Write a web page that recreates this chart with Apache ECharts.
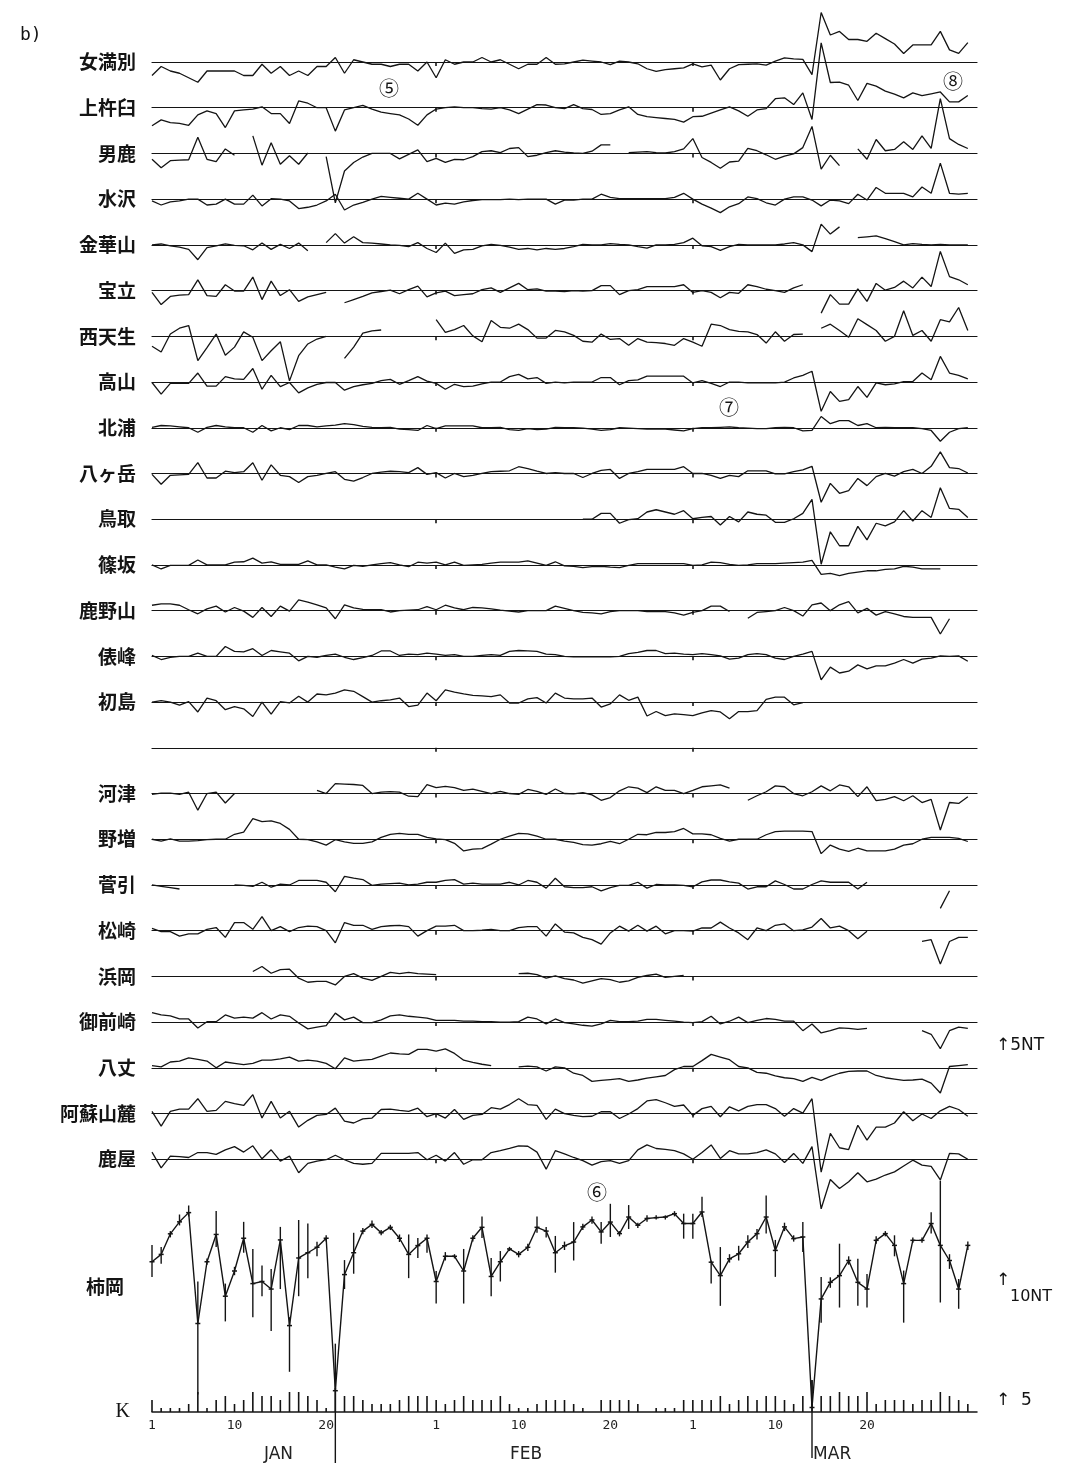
<!DOCTYPE html>
<html>
<head>
<meta charset="utf-8">
<script src="https://cdn.jsdelivr.net/npm/echarts@6.0.0/dist/echarts.min.js"></script>
<style>
html,body{margin:0;padding:0;background:#fff}
#main{width:1073px;height:1463px}
</style>
</head>
<body>
<div id="main"></div>
<script>
// daily values, Jan 1 .. Mar 31 (index 0..89), nT; null = no data
var memambetsu = [
-3,-1,-2,-2.5,-3.5,-4.5,-2,-2,-2,-2,
-3,-3,-0.5,-2.5,-1,-3,-2,-3,-1,-1,
1,-2.5,0.5,0,-0.5,-0.5,-1,-0.5,-0.5,-2,
0,-3.5,0.5,-0.5,0,0,1,0,0.5,-0.5,
-1.5,-0.5,-0.5,1,-0.5,-0.4,0,0.4,0.2,0,
-0.6,0.2,0,-0.4,-1.5,-2.1,-1.7,-1.5,-1.3,-0.4,
-1.1,-0.7,-4,-1.5,-0.6,-0.5,-0.4,-0.7,0.2,0.9,
0.7,0.6,-2.8,11,6,6.8,5,5,4.6,6.4,
5.2,4,1.9,3.8,3.8,3.8,6.8,2.7,1.9,4.3];
var kamikineusu = [
-4,-2.7,-3.3,-3.5,-3.9,-1.6,-0.7,-1.3,-4.4,-0.7,
-0.5,-0.3,0.2,-1.3,-1.3,-3.5,1.5,1,0,0,
-5.2,-0.5,0,0.5,-0.3,-1,-1.3,-1.6,-2.5,-3.9,
-1.6,-0.3,0,0.2,0,0,-0.2,-0.3,0,-0.5,
-1.3,-0.3,0.7,0.6,0,-0.2,0.7,-0.2,-0.4,-1.5,
-1.3,-0.5,0.2,-1.5,-2,-2.2,-2.4,-2.6,-3.2,-2,
-1.9,-1.2,-0.5,0.2,-0.7,-1.9,-0.5,-0.2,2,2.2,
0.7,3.3,-2.6,14.4,5.6,5.7,5,1.6,5.4,4.8,
3.7,3,2.2,3.3,2.7,3.1,3.5,1.3,1.3,2.7];
var oga = [
-1.3,-3.2,-1.6,-1.5,-1.4,3.6,-1.3,-1.8,1,-0.4,
null,3.9,-2.6,2.4,-2.4,-0.5,-2.4,0.1,null,-0.7,
-11,-3.9,-2,-0.8,0,0,0,-1.2,-0.2,0.8,
-1.8,-1.1,-2,-1.3,-1.4,-0.7,0.4,0.6,0.2,1.1,
1.3,-0.7,-0.4,0.2,0.6,0.3,0.1,0,0.5,1.9,
1.9,null,0.2,0.3,0.4,0.2,0.1,0.4,1,3.3,
-0.9,-2,-3.3,-1.9,-1.7,1.1,0.6,-0.3,-1.3,-0.6,
-0.1,1.3,6,-3.5,-0.4,-2.7,null,1,-1.3,3.1,
0.6,0.9,2.6,0.9,3.9,1.1,12.2,3.3,2,1.1];
var mizusawa = [
-0.4,-1.3,-0.6,-0.4,0,0,-1.3,-1.1,0,-1.1,
-1.1,0.9,-1.5,0.1,0,-0.4,-2.1,-1.8,-1.3,-0.4,
1.1,-2.4,-1.3,-0.7,0,0.6,0.4,0.2,0,1.3,
0,-1.3,-0.9,-1.1,-0.6,-0.3,-0.1,-0.1,-0.1,0,
-0.1,0,0,0,-1.1,-0.2,-0.2,0,0,1.1,
0.4,0.1,0.1,0.1,0.1,0.1,0.1,0.4,1.3,0,
-1.1,-2,-3,-1.7,-1,0.5,0.1,-0.8,-1.3,0,
0.5,0.5,-0.2,-1.5,-0.2,-0.4,-1,1.1,-0.2,2.6,
1.3,1.3,1.3,0.5,2.7,1.3,8,1.3,1.1,1.3];
var kinkasan = [
0,0.2,-0.2,-0.5,-1,-3.3,-0.6,-0.2,0.2,-0.1,
-0.2,-1.1,0.4,-1,0.1,-0.8,0.4,-1.3,null,0.5,
2.5,0.4,1.8,0.5,0.4,0.2,0,-0.1,-0.4,0.5,
-0.8,-1.7,0.4,-1.9,-1.1,-1,-0.2,0.1,-0.1,-0.5,
-1,-0.8,-1.1,-0.8,-1,-0.8,-0.4,0.1,0,0,
0.3,0.1,0,-0.4,-0.7,0,0,0.1,0.5,1.5,
-0.2,-0.4,-1.2,-0.4,0.1,0,0,0,0,0.2,
0.5,0,-1.5,4.6,2.4,4,null,1.6,1.8,2,
1.4,0.7,0,0.3,0.1,0,0.1,0,0,0];
var horyu = [
-0.4,-3.1,-1.3,-1,-0.9,2.4,-1.1,-1.3,1.3,-0.1,
-0.1,3,-2,2.1,-1.1,0.2,-2.4,-1.4,-0.9,-0.4,
null,-2.7,-2,-1.3,-0.5,-0.2,0.1,-0.7,0.2,1,
-1.4,-0.5,-0.1,-1.1,-0.9,-0.7,0.2,0.6,-0.4,0.6,
1.6,0.2,0.4,-0.1,-0.1,-0.2,0,-0.1,0,1.1,
1.1,-0.9,0,0.2,0.9,0.9,0.9,0.9,1.3,-0.4,
0,-0.4,-1.6,-0.4,-0.6,1.3,0.9,0.3,0,-0.4,
0.6,1.3,null,-5,-0.9,-3,-3,0.4,-2.4,1.6,
0.1,0.7,2.1,0.6,3,0.9,8.7,3.1,2.4,1.3];
var nishiamo = [
-2.2,-3.5,0.5,1.8,2.4,-5.4,-2.5,0.5,-4.2,-2.4,
1,-0.2,-5.4,-3.2,-1.2,-9.9,-4.3,-1.7,-0.6,0,
null,-4.9,-2.4,0.7,1.2,1.4,null,null,null,null,
null,3.7,0.9,1.5,2.4,0.1,-1.2,3.5,2,1.8,
2.7,1.5,-0.4,-0.4,1.3,1,0.2,-1.1,-1.3,0.5,
-0.7,-0.5,-2,-0.5,-1.3,-1.4,-1.6,-2,-0.5,-1.3,
-2.2,2.7,2.4,1.5,1.1,1,0.4,-1.5,1,-1.1,
0.4,0.5,null,1.8,2.7,1.3,-0.2,3.9,2.6,1.3,
-1.1,0,5.7,0.2,1.3,-1.1,3.7,3.2,6.4,1.3];
var takayama = [
-0.1,-2.7,-0.3,-0.3,-0.3,2,-0.9,-0.9,1.2,0.7,
0.6,3,-1.6,1.5,-1,-0.1,-2.4,-1.3,-0.5,-0.1,
-0.1,-1.8,-1,-0.6,-0.3,0.3,0.6,-0.5,0.3,1.2,
0.2,-0.3,-1.6,-0.5,-1,-0.9,-0.4,0,0,1.2,
1.7,0.7,1,-0.3,0,-0.2,0,0,0,1,
1,-0.6,0.3,0.5,1.3,1.3,1.3,1.3,1.3,-0.2,
0.3,-0.3,-1,0,0,-0.2,-0.2,-0.2,-0.2,0,
0.9,1.5,2.4,-6.5,-2.1,-4.3,-3.9,-1,-3.4,-0.2,
-0.6,-0.4,0.1,0.1,2,0.5,5.7,2,1.5,0.7];
var kitaura = [
0.1,0.5,0.4,0.2,0,-1,0.1,0.5,0.2,0,
0,-1,0.5,-0.7,0,-0.4,0.5,0.5,0.2,0.4,
0.6,0.9,0.7,0.3,0.1,0,0.1,-0.3,-0.4,-0.6,
0.5,-0.2,0.4,0.4,0.4,0.4,0,0,0.1,-0.4,
-0.6,-0.2,-0.4,-0.3,0.1,0,0,-0.1,-0.3,-0.6,
-0.4,0,-0.1,-0.2,-0.3,-0.3,-0.3,-0.5,-0.7,-0.2,
0,0,0.1,0.2,0,-0.1,-0.2,-0.2,0,0.1,
0,-0.7,-0.6,2.5,0.9,1.6,1.6,0.5,0.9,0,
0.1,0,0,0,-0.2,-0.6,-3,-1,-0.2,0];
var yatsugatake = [
-0.2,-2.4,-0.4,-0.3,-0.2,2.4,-1,-1,0.5,0.2,
0.4,2.4,-1.5,1.9,-0.4,-0.7,-2,-0.7,-0.4,0,
0.4,-1.3,-1.7,-0.9,0,0.3,0.5,0.4,0.2,1.3,
-0.2,0.2,-1,0,-0.7,-0.4,0,0.4,0.5,0.6,
1.5,1.1,0.5,0,0.2,0,0,-0.9,0,0.7,
0.9,-1.1,0,0.4,0.9,0.9,0.9,0.9,1.5,0,
0,-0.4,-1.1,-0.4,-0.7,0.6,0.6,0.6,-0.1,-0.1,
0.4,0.8,1.6,-6.4,-2.2,-4.4,-3.8,-1.1,-2.7,-0.7,
0,-0.6,0.4,0.9,0,1.6,4.8,1.3,1.1,0.1];
var tottori = [
null,null,null,null,null,null,null,null,null,null,
null,null,null,null,null,null,null,null,null,null,
null,null,null,null,null,null,null,null,null,null,
null,null,null,null,null,null,null,null,null,null,
null,null,null,null,null,null,null,0,0,1.3,
1.3,-0.9,-0.1,0.1,1.6,2.1,1.6,1.1,1.9,0.1,
0.4,0.6,-1.3,0.6,-0.6,1.6,1.1,0.9,-0.7,-0.7,
0.1,1.3,4.4,-10,-2.8,-5.9,-5.9,-1.6,-4.6,-0.9,
-1.5,-0.6,1.9,-0.4,1.9,0.4,7,2.4,2.2,0.4];
var sasakasa = [
0,-0.9,-0.1,-0.1,-0.1,1.1,0,0,0,0.6,
0.7,1.5,0.4,0.7,0.1,0.1,0.1,0.9,0,0,
-0.5,-0.9,-0.1,-0.3,0,0.3,0.5,0,-0.4,0.6,
0.4,0.6,0,0.6,-0.1,0,0.1,0.4,0.6,0.6,
0.6,0.9,0.4,-0.1,0.7,-0.2,-0.3,-0.6,-0.4,-0.3,
-0.5,-0.6,-0.1,0.3,0.3,0.3,0.3,0.3,0.3,-0.1,
0,0.6,0.5,0.1,-0.1,0,0.3,0.3,0.3,0.4,
0.5,0.6,1,-2.1,-1.9,-2.4,-1.9,-1.6,-1.3,-1.3,
-1,-0.9,-0.3,-0.5,-0.9,-0.9,-0.9,null,null,null];
var kanozan = [
1.2,1.5,1.5,1.2,0.2,-0.7,0.4,1,-0.3,0.7,
-0.1,-1.5,0.7,-1.3,1,-0.1,2.4,1.9,1.3,0.6,
-1.8,1.3,0.6,0.3,0.2,0.2,-0.3,0,0.1,0.2,
0.9,0.2,1.2,0.6,0.2,0.7,0.6,0.4,0.1,-0.1,
-0.3,0,0,0,1,0.5,0,-0.4,-0.5,-0.7,
-0.2,0,0,0,-0.2,-0.2,-0.2,-0.5,-1,-0.4,
0,1,1,-0.2,null,-1.7,-0.4,-0.2,0,0.7,
0,-1.2,1.3,1.7,0,1.3,2,-0.5,0.5,-1,
-0.2,-0.7,-1.3,-1.5,-1.5,-1.5,-5.2,-1.8,null,null];
var tawaramine = [
0.2,-0.7,-0.2,0,0,0.7,0,0,2.2,1.1,
1,1.7,0.2,1.3,1,0.7,-1,0,-0.2,0.2,
0.5,-0.2,-0.7,-0.3,0.2,1.2,1.2,0.2,0.5,0.4,
0.7,0.5,0.2,0.4,0,0,0.2,0.4,0.2,1.1,
1.3,1.2,1.1,0.5,0.4,0,-0.1,-0.1,-0.1,-0.1,
-0.1,0,0.6,0.9,1.3,1.3,0.6,0.7,0.5,0.4,
0.6,0.4,0.1,-0.6,-0.4,0.4,0.6,0.4,-0.4,-0.7,
0,0.5,1.1,-5.2,-2.4,-3.7,-3.3,-1.9,-2.8,-2.1,
-2.1,-1.5,-0.7,-1.5,-0.6,-0.4,0.1,0,0.1,-1.1];
var hatsushima = [
0,0.3,0,-0.7,0.1,-2.2,0.9,0.3,-1.7,-1,
-1.5,-3.2,0,-2.7,0.1,-0.2,1.3,0,1.8,1.6,
2,2.7,2.4,1.2,0,0.3,0.5,0.9,-1,-0.7,
2,0.3,2.7,2.2,1.8,1.5,1.4,1.2,1.6,-0.2,
-0.2,0.7,1,-0.2,2,0.9,0.7,0.7,0.9,-1.1,
-0.4,1.6,0.4,1.1,-3.1,-2.1,-3,-2.6,-2.8,-3,
-2.4,-1.9,-2.2,-3.7,-2.1,-2.1,-1.9,0.6,1.1,1.1,
-0.6,-0.1,null,null,null,null,null,null,null,null,
null,null,null,null,null,null,null,null,null,null];
var blankRow = [
null,null,null,null,null,null,null,null,null,null,
null,null,null,null,null,null,null,null,null,null,
null,null,null,null,null,null,null,null,null,null,
null,null,null,null,null,null,null,null,null,null,
null,null,null,null,null,null,null,null,null,null,
null,null,null,null,null,null,null,null,null,null,
null,null,null,null,null,null,null,null,null,null,
null,null,null,null,null,null,null,null,null,null,
null,null,null,null,null,null,null,null,null,null];
var kawazu = [
-0.2,0.1,0.1,-0.2,0.3,-3.7,0,0.3,-2.1,0,
null,null,null,null,null,null,null,null,0.7,0,
2.2,2.1,2,1.8,0,0.3,0.4,0.3,-0.6,-0.7,
2,1.3,1.6,1.3,0.7,1,0.5,0,0.5,0,
-0.2,0.9,0.5,-0.2,1,0,-0.1,0.2,-0.3,-1.5,
-0.9,0.6,1.5,1.2,0.2,1.5,0.7,0.7,0,0.7,
1.5,1.7,1.9,1.2,null,-1.5,-0.5,0.4,1.7,1.5,
0,-0.5,0.4,1.7,0.6,1.9,1.5,-0.7,1.5,-1.6,
-1.3,-0.7,-1.6,-0.5,-2,-1.3,-8.1,-2,-2.2,-0.7];
var nomashi = [
0,-0.4,0.1,-0.4,-0.4,-0.3,-0.1,0,0,1.1,
1.6,4.6,3.9,4.1,3.5,2.2,0,-0.1,-0.6,-1.3,
-0.1,-0.6,-0.9,-0.9,-0.6,0.4,1.1,1.3,1.1,1.1,
0.4,0.1,-0.1,-0.9,-2.6,-2.2,-2.1,-1.1,0,0.7,
1.3,1.2,0.7,0,0,-0.4,-0.7,-1.2,-1.3,-1,
-0.5,-1,0,1.1,1,1.5,1.5,1.7,2.4,1.2,
1.2,1,0.2,-0.4,0,0,0,1,1.7,1.8,
1.8,1.8,1.7,-3.2,-1.3,-2.2,-2.7,-2,-2.6,-2.6,
-2.6,-2.2,-1.3,-1,0,0.4,0.4,0.4,0.2,-0.5];
var sugabiki = [
0,-0.3,-0.6,-0.9,null,null,null,null,null,0,
-0.1,-0.3,0.6,-0.5,0.2,0,1,1,1,0.6,
-1.5,1.9,1.5,1.2,-0.1,0.2,0.3,0.4,0,0.2,
0.6,0.6,1,1.2,0.2,0.4,0.2,0.2,0.2,0.6,
0,1,0.6,-0.7,1.5,-0.4,-0.6,-0.6,-0.4,-1.3,
-0.6,-0.1,-0.1,0.6,-0.7,0.1,0,0,-0.1,-0.4,
0.7,1.1,1.1,0.7,0.4,-0.9,-0.4,-0.4,0.9,0.1,
-0.9,-0.9,0.1,0.9,0.6,0.6,0.6,-0.9,0.6,null,
null,null,null,null,null,null,-5.2,-1.3,null,null];
var matsuzaki = [
0.5,-0.2,-0.2,-1.2,-0.7,-0.7,0.3,0.7,-1.5,1.8,
1.8,0.3,3.1,0,0.9,-0.2,0.7,1,0.9,0,
-2.7,1.8,1.2,1.2,0.3,0.9,1.1,1.2,0.9,-1.2,
0,1,1,1.2,0,0,0.1,0.3,0,0,
0.7,0.9,0.9,-1.2,1.5,-0.3,-0.5,-1.5,-2,-3,
-0.5,1,-0.1,1.2,-0.1,1,-0.7,0,0,-0.1,
0.6,0.6,1.9,0.6,-0.5,-2,0.6,0,1.2,1.5,
0,0.2,0.8,2.7,0.6,1,0,-1.8,-0.1,null,
null,null,null,null,-2.4,-2,-7.4,-2.4,-1.5,-1.5];
var hamaoka = [
null,null,null,null,null,null,null,null,null,null,
null,1.1,2.2,0.7,1.5,1.6,-0.4,-1.3,-1.1,-1.1,
-1.9,0,0.6,-0.4,-0.9,0,0.9,0.6,0.9,0.6,
0.5,0.4,null,null,null,null,null,null,null,null,
0.6,0.7,0.4,-0.4,0.1,-0.5,-0.8,-1.5,-1,-0.5,
-0.7,-1.3,-1,-0.2,0.2,0.5,-0.2,0,0.2,null,
null,null,null,null,null,null,null,null,null,null,
null,null,null,null,null,null,null,null,null,null,
null,null,null,null,null,null,null,null,null,null];
var omaezaki = [
2.1,1.6,1.4,0.7,0.7,-1.3,0.1,0.1,1.6,0.9,
1.1,0.9,2.1,0.7,1.6,1.3,-0.2,-1.5,-1.1,-0.8,
2,0.5,1.1,-0.1,-0.1,0.5,1.4,1.6,1.3,1.1,
0.9,0.4,0.4,0.4,0.2,0.2,0.1,0.1,0,0,
0.1,1.1,0.7,-0.4,0.7,-0.1,-0.4,-0.7,-0.9,-0.4,
0.4,0.1,0.1,0.2,0.6,0.6,0.4,0.2,0,-0.1,
0.1,1.3,-0.4,0.2,1.1,-0.1,0.4,0.8,0.6,0.2,
0.2,-1.9,-0.4,-2.4,-1.9,-1.3,-1.4,-1.6,-1.4,null,
null,null,null,null,-1.9,-2.7,-5.9,-1.9,-1.1,-1.4];
var hachijo = [
0.5,0.2,1.3,1.5,2.2,1.9,1.5,0,1.3,1,
0.7,1,1.7,1.7,2,2.4,1.5,1.7,1.5,1,
-0.2,2.2,1.5,1.7,1.9,2.6,3.3,3.1,3,4.1,
4.1,3.7,4.2,3.2,1.7,1.2,0.8,0.5,null,null,
0.2,0.4,0.2,-0.7,0.2,0,-1.2,-1.7,-3,-2.8,
-2.6,-2.4,-3,-2.7,-2.3,-2,-1.7,-0.4,0.3,0.3,
1.6,3,2.4,1.8,0.3,0,-1,-1.2,-1.8,-2.2,
-2.4,-3,-2.1,-2.8,-1.9,-1.2,-0.8,-0.7,-0.7,-1.7,
-2.2,-2.5,-2.8,-2.7,-2.5,-3.4,-5.6,0.3,0.5,0.7];
var asosanroku = [
0.5,-2.8,0.5,1,1,3.3,0.5,0.7,2.7,2.2,
1.8,4.2,-1,2.7,-1,0.5,-3,-1.5,-0.4,-0.2,
1.2,-1.7,-2.1,-1.2,-1,0.9,1,0.7,0.5,1.2,
-0.7,0,-1,0.9,-1.3,-0.4,-0.2,1.3,1,2,
3.3,2,1.8,-1.3,1,0,-0.4,-0.7,-0.6,0.4,
0.4,-1.1,-0.1,1.1,2.8,3.1,2.4,1.6,1.9,-0.4,
1.1,1.6,-0.7,1.5,0.6,1.6,2,2,1.1,-0.6,
1.1,0.1,3.3,-13,-4.4,-7.6,-8,-2.6,-5.9,-3,
-3,-2.1,0.4,-1.6,-0.1,-1.1,0.6,1.6,0.9,-0.6];
var kanoya = [
1.6,-1.9,0.7,0.6,0.4,1.5,1.5,1.1,2.1,2.8,
1.6,3,0.1,2.1,-0.4,0.7,-3,-0.9,-0.4,-0.1,
0.9,-0.1,-0.9,-1.1,-0.9,1.3,1.3,1.3,1.3,1.5,
-0.1,0.9,-0.4,1.5,-1.1,-0.1,-0.1,1.5,1.9,2.4,
3,2.9,1.6,-2.2,1.9,1.2,0.4,-0.3,-1.3,-0.5,
-0.3,-0.9,-0.3,2.1,3.2,2.4,2.2,1.9,1.2,0,
1.5,3.2,0.2,1.9,1.2,1.2,1.5,2.1,1.2,-0.7,
1.3,-0.9,2.8,-11,-4.5,-6.5,-5,-3,-5,-4.4,
-3.5,-2.8,-1.5,-0.2,-1.3,-1.6,-4.6,1.3,1.2,0];

// Kakioka daily value with its range
var kakioka = [
-5.6,-2.1,7.7,13.4,17.8,-35,-5.6,7.4,-22,-10,
5.6,-16,-15,-18.6,4.8,-36,-3.8,-1.3,1.3,5.6,
-67,-11.7,-1.3,9,12.2,8.2,10.8,5.6,-2.1,2.1,
5.6,-15,-3,-3,-10,5.6,10.8,-12.6,-5.6,0.5,
-2.1,1.3,10.8,9,-1.3,2,3.8,11,14.3,8.6,
13.3,7.8,15.7,11.8,15,15.4,15.7,17.3,12.6,12.6,
18.1,-5.8,-12.2,-4.2,-1.8,3.8,7.8,15.7,-0.2,11,
5.4,6.2,-75,-23.3,-15.4,-12.2,-5,-15.4,-18.6,4.6,
7.8,2.2,-16,4.6,4.6,12.6,2.2,-5,-18.6,2.2];
var kakiokaHi = [
2.4,1.4,9,16.9,21.2,-15,-4,18.6,-16,-8,
13.4,0.5,-7.4,-9,11,-32,14.3,12.6,3.9,7,
-44.6,-4.8,8.2,10.5,14,9.5,12,7.4,7.4,5.7,
7.4,-10,-1,-2,0.5,7,16,-3.8,-0.5,1.5,
-0.5,3,16,11,6.7,4,13.3,12.5,16,13.3,
22,9,21.4,13,16.5,16.5,16.5,18.5,17.3,17.3,
25.3,-5,1.4,-2,2,7,10,26,4.8,13,
7,13.3,-62,-12.8,-13,3,-3,-4.2,-11.4,6.5,
9,7,-9.8,6,6,18,33,-2,-13.8,4];
var kakiokaLo = [
-12.9,-6.5,6,11.7,16,-68.8,-7,1.4,-34,-12,
-1.3,-32,-22,-38.6,-18.6,-58,-22,-13.4,-3,4,
-110,-18.6,-11.3,7.5,10.5,7,9.5,3.8,-13.4,-3.8,
-1.3,-25.5,-5,-4,-25.5,4,5.7,-22,-15,-0.5,
-3.5,-0.5,8.2,6,-10.8,0,-5,9.5,12.5,3,
6.2,6.5,10,10.5,13.5,14.5,14.5,16,5.4,5.4,
15.7,-16,-26.6,-6,-5,1,5,7.8,-12.8,9,
4,-1,-99,-34.6,-18,-27.4,-7,-26.6,-27.4,3,
6.5,-3,-34.6,3.5,3.5,7.8,-25,-9,-28,0];

// K index
var kIndex = [
3,1,1,1,2,5,1,3,4,2,
3,5,4,4,3,5,5,4,3,1,
6,4,4,3,2,2,2,3,4,4,
4,3,2,3,4,3,3,3,4,2,
1,1,2,3,3,3,2,1,0,3,
3,3,3,2,0,1,1,1,3,3,
3,3,4,2,3,4,3,4,4,3,
2,4,8,4,4,5,4,4,5,2,
3,3,3,2,3,3,5,4,3,2];

var stationNames = ['女満別','上杵臼','男鹿','水沢','金華山','宝立','西天生','高山','北浦','八ヶ岳',
  '鳥取','篠坂','鹿野山','俵峰','初島','','河津','野増','菅引','松崎','浜岡','御前崎','八丈','阿蘇山麓','鹿屋'];
var stationData = [memambetsu,kamikineusu,oga,mizusawa,kinkasan,horyu,nishiamo,takayama,kitaura,yatsugatake,
  tottori,sasakasa,kanozan,tawaramine,hatsushima,blankRow,kawazu,nomashi,sugabiki,matsuzaki,hamaoka,omaezaki,hachijo,asosanroku,kanoya];

var dayTicks = [0,9,19,31,40,50,59,68,78];
var dayTickLabels = ['1','10','20','1','10','20','1','10','20'];
var monthNames = ['JAN','FEB','MAR'];
var monthCentres = [13.8,40.8,74.2];
var monthStarts = [31,59];

// layout
var LEFT = 152, WIDTH = 825, ROW0 = 62, ROWSTEP = 45.72;
var INK = '#141414';

var grids = [], xAxes = [], yAxes = [], series = [];

function pairs(arr){
	return arr.map(function(v, i){ return [i, v]; });
}

stationNames.forEach(function(name, i){
	var base = ROW0 + i * ROWSTEP;
	grids.push({left: LEFT, width: WIDTH, top: base - 22.5, height: 45});
	xAxes.push({
		gridIndex: i, type: 'value', min: 0, max: 90,
		axisLine: {onZero: true, lineStyle: {color: INK, width: 1.2}},
		axisTick: {show: true, customValues: monthStarts, length: 4, lineStyle: {color: INK, width: 1.6}},
		axisLabel: {show: false},
		splitLine: {show: false}
	});
	yAxes.push({
		gridIndex: i, type: 'value', min: -5, max: 5,
		axisLine: {show: false}, axisTick: {show: false}, splitLine: {show: false},
		axisLabel: {
			show: name !== '', customValues: [0], margin: 16,
			formatter: function(){ return name; },
			color: INK, fontSize: 19, fontWeight: 'bold', fontFamily: 'Noto Sans CJK JP'
		}
	});
	series.push({
		type: 'line', xAxisIndex: i, yAxisIndex: i,
		data: pairs(stationData[i]),
		symbol: 'none', clip: false, connectNulls: false,
		lineStyle: {color: INK, width: 1.3}
	});
});

// Kakioka panel
var kg = stationNames.length;
grids.push({left: LEFT, width: WIDTH, top: 1187, height: 147});
xAxes.push({gridIndex: kg, type: 'value', min: 0, max: 90, show: false});
yAxes.push({gridIndex: kg, type: 'value', min: -40, max: 30, show: false});
series.push({
	type: 'line', xAxisIndex: kg, yAxisIndex: kg,
	data: pairs(kakioka), clip: false,
	symbol: 'rect', symbolSize: [5, 1.5], showSymbol: true,
	itemStyle: {color: INK},
	lineStyle: {color: INK, width: 1.4}
});
series.push({
	type: 'custom', xAxisIndex: kg, yAxisIndex: kg, clip: false,
	data: kakioka.map(function(v, i){ return [i, kakiokaHi[i], kakiokaLo[i]]; }),
	encode: {x: 0, y: [1, 2]},
	renderItem: function(params, api){
		var top = api.coord([api.value(0), api.value(1)]);
		var bot = api.coord([api.value(0), api.value(2)]);
		return {
			type: 'line',
			shape: {x1: top[0], y1: top[1], x2: bot[0], y2: bot[1]},
			style: {stroke: INK, lineWidth: 1.4}
		};
	}
});

// K index panel
var kk = kg + 1;
grids.push({left: LEFT, width: WIDTH, top: 1392, height: 20});
xAxes.push({
	gridIndex: kk, type: 'value', min: 0, max: 90,
	axisLine: {onZero: true, lineStyle: {color: INK, width: 1.5}},
	axisTick: {show: false}, splitLine: {show: false},
	axisLabel: {
		customValues: dayTicks, margin: 7,
		formatter: function(v){ return dayTickLabels[dayTicks.indexOf(v)]; },
		color: '#222', fontSize: 13, fontFamily: 'DejaVu Sans Mono'
	}
});
xAxes.push({
	gridIndex: kk, type: 'value', min: 0, max: 90, position: 'bottom', offset: 26,
	axisLine: {show: false}, axisTick: {show: false}, splitLine: {show: false},
	axisLabel: {
		customValues: monthCentres,
		formatter: function(v){ return monthNames[monthCentres.indexOf(v)]; },
		color: '#222', fontSize: 17, fontFamily: 'DejaVu Sans'
	}
});
yAxes.push({
	gridIndex: kk, type: 'value', min: 0, max: 5,
	axisLine: {show: false}, axisTick: {show: false}, splitLine: {show: false},
	axisLabel: {
		customValues: [0], margin: 22, formatter: function(){ return 'K'; },
		color: INK, fontSize: 20, fontFamily: 'Liberation Serif'
	}
});
series.push({
	type: 'bar', xAxisIndex: kk, yAxisIndex: kk,
	data: pairs(kIndex), barWidth: 1.6, clip: false,
	itemStyle: {color: INK}
});

var txt = function(x, y, s, size, font, weight){
	return {type: 'text', left: x, top: y, style: {text: s, fill: INK, fontSize: size, fontFamily: font || 'DejaVu Sans', fontWeight: weight || 'normal'}};
};

var option = {
	backgroundColor: '#fff',
	animation: false,
	grid: grids,
	xAxis: xAxes,
	yAxis: yAxes,
	series: series,
	graphic: [
		txt(20, 26, 'b)', 18, 'DejaVu Sans Mono'),
		txt(86, 1277, '柿岡', 19, 'Noto Sans CJK JP', 'bold'),
		txt(379, 78, '⑤', 20, 'Noto Sans CJK JP'),
		txt(943, 71, '⑧', 20, 'Noto Sans CJK JP'),
		txt(719, 397, '⑦', 20, 'Noto Sans CJK JP'),
		txt(587, 1182, '⑥', 20, 'Noto Sans CJK JP'),
		txt(996, 1037, '↑5NT', 17),
		txt(996, 1272, '↑', 17),
		txt(1010, 1289, '10NT', 16),
		txt(996, 1392, '↑  5', 17)
	]
};

var myChart = echarts.init(document.getElementById('main'), null, {renderer: 'canvas'});
myChart.setOption(option);
</script>
</body>
</html>
